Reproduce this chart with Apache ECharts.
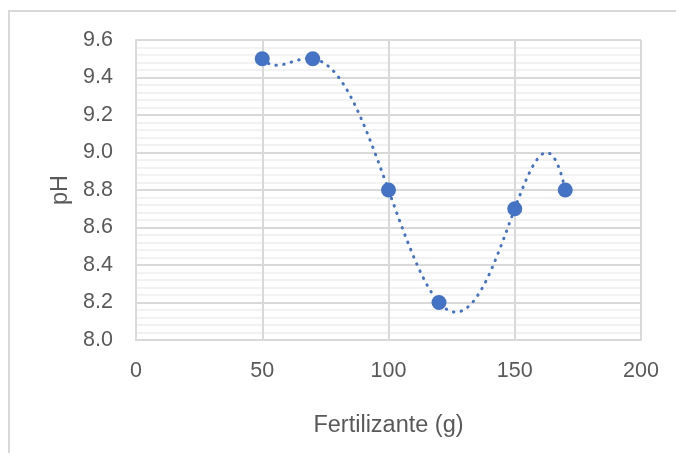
<!DOCTYPE html>
<html>
<head>
<meta charset="utf-8">
<script src="https://cdn.jsdelivr.net/npm/echarts@6/dist/echarts.min.js"></script>
<style>
html,body{margin:0;padding:0;background:#fff;}
#chart{width:676px;height:453px;}
</style>
</head>
<body>
<div id="chart"></div>
<script>
// Measured data
const fertilizer = [50, 70, 100, 120, 150, 170];
const phValues = [9.5, 9.5, 8.8, 8.2, 8.7, 8.8];
const xAxisTitle = 'Fertilizante (g)';
const yAxisTitle = 'pH';
const trendOrder = 5; // polynomial trendline (order 5), as in the reference

// Least-squares polynomial regression of the measured data (trendline)
function polyFit(xs, ys, order) {
  const cx = xs.reduce((a, b) => a + b, 0) / xs.length;
  const sx = (Math.max(...xs) - Math.min(...xs)) / 2 || 1;
  const n = order + 1;
  const A = Array.from({length: n}, () => new Array(n + 1).fill(0));
  xs.forEach((x, k) => {
    const u = (x - cx) / sx;
    const pw = [];
    for (let i = 0; i < 2 * n; i++) pw.push(Math.pow(u, i));
    for (let r = 0; r < n; r++) {
      for (let c = 0; c < n; c++) A[r][c] += pw[r + c];
      A[r][n] += pw[r] * ys[k];
    }
  });
  for (let c = 0; c < n; c++) {
    let p = c;
    for (let r = c + 1; r < n; r++) if (Math.abs(A[r][c]) > Math.abs(A[p][c])) p = r;
    [A[c], A[p]] = [A[p], A[c]];
    for (let r = 0; r < n; r++) {
      if (r === c) continue;
      const f = A[r][c] / A[c][c];
      for (let k = c; k <= n; k++) A[r][k] -= f * A[c][k];
    }
  }
  const coef = A.map((row, i) => row[n] / row[i]);
  return x => { const u = (x - cx) / sx; let s = 0; for (let i = n - 1; i >= 0; i--) s = s * u + coef[i]; return s; };
}
const trend = polyFit(fertilizer, phValues, trendOrder);
const xMinData = Math.min(...fertilizer), xMaxData = Math.max(...fertilizer);
const trendData = [];
for (let i = 0; i <= 240; i++) {
  const x = xMinData + (xMaxData - xMinData) * i / 240;
  trendData.push([x, trend(x)]);
}

const FONT = 'Liberation Sans';
const TXT = '#595959';
const chart = echarts.init(document.getElementById('chart'), null, {renderer: 'canvas'});
chart.setOption({
  backgroundColor: '#ffffff',
  animation: false,
  graphic: [{
    type: 'rect',
    shape: {x: 9, y: 11, width: 900, height: 700},
    style: {fill: 'none', stroke: '#d9d9d9', lineWidth: 2},
    silent: true
  }],
  grid: {left: 136, right: 35, top: 40, bottom: 113},
  xAxis: {
    type: 'value', min: 0, max: 200, interval: 50,
    name: xAxisTitle, nameLocation: 'middle', nameGap: 74,
    nameTextStyle: {color: TXT, fontFamily: FONT, fontSize: 23.5},
    axisLine: {show: true, lineStyle: {color: '#d9d9d9', width: 2}},
    axisTick: {show: false},
    axisLabel: {color: TXT, fontFamily: FONT, fontSize: 21.5, margin: 20},
    splitLine: {show: true, lineStyle: {color: '#d9d9d9', width: 2}}
  },
  yAxis: {
    type: 'value', min: 8.0, max: 9.6, interval: 0.2,
    name: yAxisTitle, nameLocation: 'middle', nameGap: 62, nameRotate: 90,
    nameTextStyle: {color: TXT, fontFamily: FONT, fontSize: 23.5},
    axisLine: {show: true, lineStyle: {color: '#d9d9d9', width: 2}},
    axisTick: {show: false},
    minorTick: {show: false, splitNumber: 5},
    minorSplitLine: {show: true, lineStyle: {color: '#f2f2f2', width: 2}},
    axisLabel: {color: TXT, fontFamily: FONT, fontSize: 21.5, margin: 23,
      formatter: v => v.toFixed(1)},
    splitLine: {show: true, lineStyle: {color: '#d9d9d9', width: 2}}
  },
  series: [{
    type: 'line',
    name: 'trend',
    data: trendData,
    symbol: 'none',
    smooth: false,
    z: 2,
    lineStyle: {color: '#4472C4', width: 3, type: [0.5, 7.3], cap: 'round'}
  }, {
    type: 'scatter',
    name: 'pH',
    data: fertilizer.map((x, i) => [x, phValues[i]]),
    symbol: 'circle',
    symbolSize: 15,
    z: 3,
    itemStyle: {color: '#4472C4', opacity: 1}
  }]
});
</script>
</body>
</html>
